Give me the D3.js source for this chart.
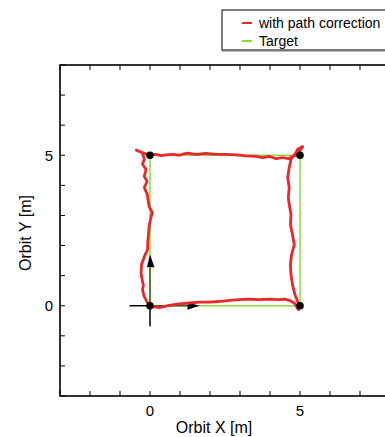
<!DOCTYPE html>
<html>
<head>
<meta charset="utf-8">
<script src="https://cdn.jsdelivr.net/npm/d3@7"></script>
<style>
  body { margin: 0; background: #fff; }
  svg { display: block; font-family: "Liberation Sans", Arial, sans-serif; }
</style>
</head>
<body>
<svg id="chart"></svg>
<script>
var width = 385, height = 437;

// target square (corners visited in order)
var targetX = [0, 0, 5, 5, 0];
var targetY = [0, 5, 5, 0, 0];

var pathX = [-0.02, -0.10, -0.19, -0.25, -0.22, -0.25, -0.30, -0.28, -0.19, -0.08, -0.08, -0.06, -0.02, 0.03, 0.08, -0.02, -0.06, -0.09, -0.19, -0.10, -0.19, -0.13, -0.25, -0.19,
  -0.26, -0.36, -0.46, -0.29, -0.09,
  0.01, 0.20, 0.37, 0.53, 0.75, 0.98, 1.10, 1.25, 1.53, 1.87, 2.20, 2.53, 2.87, 3.20, 3.53, 3.75, 3.98, 4.20, 4.42, 4.63, 4.75, 4.92, 5.03, 5.09, 4.92, 4.87,
  4.70, 4.64, 4.59, 4.64, 4.61, 4.64, 4.70, 4.68, 4.75, 4.81, 4.72, 4.68, 4.70, 4.75, 4.83, 4.92, 4.98, 4.95, 4.81,
  4.64, 4.48, 4.31, 3.98, 3.64, 3.31, 2.98, 2.64, 2.31, 1.98, 1.64, 1.31, 0.98, 0.64, 0.31, 0.03];
var pathY = [0.03, 0.13, 0.30, 0.53, 0.68, 0.80, 1.10, 1.37, 1.63, 1.87, 2.03, 2.27, 2.70, 2.93, 3.10, 3.27, 3.47, 3.70, 3.93, 4.13, 4.30, 4.53, 4.70, 4.87,
  5.10, 5.13, 5.17, 5.10, 5.03,
  5.01, 5.03, 4.99, 5.01, 5.03, 5.00, 5.04, 5.07, 5.03, 5.06, 5.03, 5.03, 5.01, 4.98, 4.96, 4.92, 4.96, 4.89, 4.92, 4.89, 4.96, 5.03, 5.20, 5.29, 5.20, 5.09,
  4.87, 4.59, 4.26, 3.92, 3.59, 3.37, 3.03, 2.70, 2.37, 2.03, 1.70, 1.37, 1.03, 0.70, 0.37, 0.14, -0.02, -0.13, 0.09,
  0.18, 0.22, 0.20, 0.22, 0.20, 0.22, 0.20, 0.18, 0.14, 0.12, 0.12, 0.09, 0.06, 0.01, -0.06, -0.02];

// waypoints
var waypointX = [0, 0, 5, 5];
var waypointY = [0, 5, 5, 0];

// axis ticks
var tickValues = d3.range(-3, 9);
var tickLabels = [0, 5];

var legendLabels = ["with path correction", "Target"];
var legendColors = ["#ea282b", "#8edb3c"];

var svg = d3.select("#chart")
  .attr("width", width)
  .attr("height", height);

var x = d3.scaleLinear().domain([-3, 8]).range([60, 390]);
var y = d3.scaleLinear().domain([-3, 8]).range([396, 65]);

// frame
var frame = svg.append("g");
frame.append("rect")
  .attr("x", x(-3)).attr("y", y(8))
  .attr("width", x(8) - x(-3)).attr("height", y(-3) - y(8))
  .attr("fill", "none").attr("stroke", "#000").attr("stroke-width", 1.6);

// inward ticks on all four sides
var tk = 5;
tickValues.forEach(function(v) {
  frame.append("line").attr("x1", x(v)).attr("x2", x(v)).attr("y1", y(-3)).attr("y2", y(-3) - tk)
    .attr("stroke", "#000").attr("stroke-width", 1);
  frame.append("line").attr("x1", x(v)).attr("x2", x(v)).attr("y1", y(8)).attr("y2", y(8) + tk)
    .attr("stroke", "#000").attr("stroke-width", 1);
  frame.append("line").attr("x1", x(-3)).attr("x2", x(-3) + tk).attr("y1", y(v)).attr("y2", y(v))
    .attr("stroke", "#000").attr("stroke-width", 1);
  frame.append("line").attr("x1", x(8)).attr("x2", x(8) - tk).attr("y1", y(v)).attr("y2", y(v))
    .attr("stroke", "#000").attr("stroke-width", 1);
});

// tick labels
svg.selectAll(".xl").data(tickLabels).join("text")
  .attr("x", d => x(d)).attr("y", y(-3) + 20)
  .attr("text-anchor", "middle").attr("font-size", 15).text(d => d);
svg.selectAll(".yl").data(tickLabels).join("text")
  .attr("x", x(-3) - 7).attr("y", d => y(d) + 5.5)
  .attr("text-anchor", "end").attr("font-size", 15).text(d => d);

// axis titles
svg.append("text").attr("x", 214).attr("y", 433)
  .attr("text-anchor", "middle").attr("font-size", 16).text("Orbit X [m]");
svg.append("text").attr("transform", "translate(31,233) rotate(-90)")
  .attr("text-anchor", "middle").attr("font-size", 16).text("Orbit Y [m]");

// target
svg.append("path")
  .datum(d3.zip(targetX, targetY))
  .attr("fill", "none").attr("stroke", legendColors[1]).attr("stroke-width", 1.5)
  .attr("d", d3.line().x(d => x(d[0])).y(d => y(d[1])));

// coordinate frame at origin
var axg = svg.append("g");
axg.append("line").attr("x1", x(-0.68)).attr("x2", x(0)).attr("y1", y(0)).attr("y2", y(0))
  .attr("stroke", "#000").attr("stroke-width", 1.5);
axg.append("line").attr("x1", x(0)).attr("x2", x(0)).attr("y1", y(0)).attr("y2", y(-0.68))
  .attr("stroke", "#000").attr("stroke-width", 1.5);
axg.append("line").attr("x1", x(0)).attr("x2", x(1.25)).attr("y1", y(0)).attr("y2", y(0))
  .attr("stroke", "#3f5a25").attr("stroke-width", 1.5);
axg.append("line").attr("x1", x(0)).attr("x2", x(0)).attr("y1", y(0)).attr("y2", y(1.25))
  .attr("stroke", "#3f5a25").attr("stroke-width", 1.5);
axg.append("path")
  .attr("d", "M" + x(1.65) + "," + y(0) + "L" + x(1.25) + "," + (y(0) - 3.5) + "L" + x(1.25) + "," + (y(0) + 4) + "Z")
  .attr("fill", "#000");
axg.append("path")
  .attr("d", "M" + x(0) + "," + y(1.7) + "L" + (x(0) - 3) + "," + y(1.28) + "L" + (x(0) + 4.5) + "," + y(1.28) + "Z")
  .attr("fill", "#000");

// measured path
svg.append("path")
  .datum(d3.zip(pathX, pathY))
  .attr("fill", "none").attr("stroke", legendColors[0]).attr("stroke-width", 2.8)
  .attr("stroke-linejoin", "round").attr("stroke-linecap", "round")
  .attr("d", d3.line().x(d => x(d[0])).y(d => y(d[1])));

// waypoints
svg.selectAll(".wp").data(d3.zip(waypointX, waypointY)).join("circle")
  .attr("cx", d => x(d[0])).attr("cy", d => y(d[1])).attr("r", 3.8).attr("fill", "#000");

// legend
var lg = svg.append("g");
lg.append("rect").attr("x", 222).attr("y", 10).attr("width", 180).attr("height", 40)
  .attr("fill", "#fff").attr("stroke", "#000").attr("stroke-width", 1);
lg.append("line").attr("x1", 222).attr("x2", 400).attr("y1", 50.5).attr("y2", 50.5)
  .attr("stroke", "#777").attr("stroke-width", 2);
legendLabels.forEach(function(l, i) {
  lg.append("line").attr("x1", 242).attr("x2", 252).attr("y1", 23 + i * 18).attr("y2", 23 + i * 18)
    .attr("stroke", legendColors[i]).attr("stroke-width", 2);
  lg.append("text").attr("x", 259).attr("y", 28 + i * 18).attr("font-size", 14)
    .text(l);
});
</script>
</body>
</html>
